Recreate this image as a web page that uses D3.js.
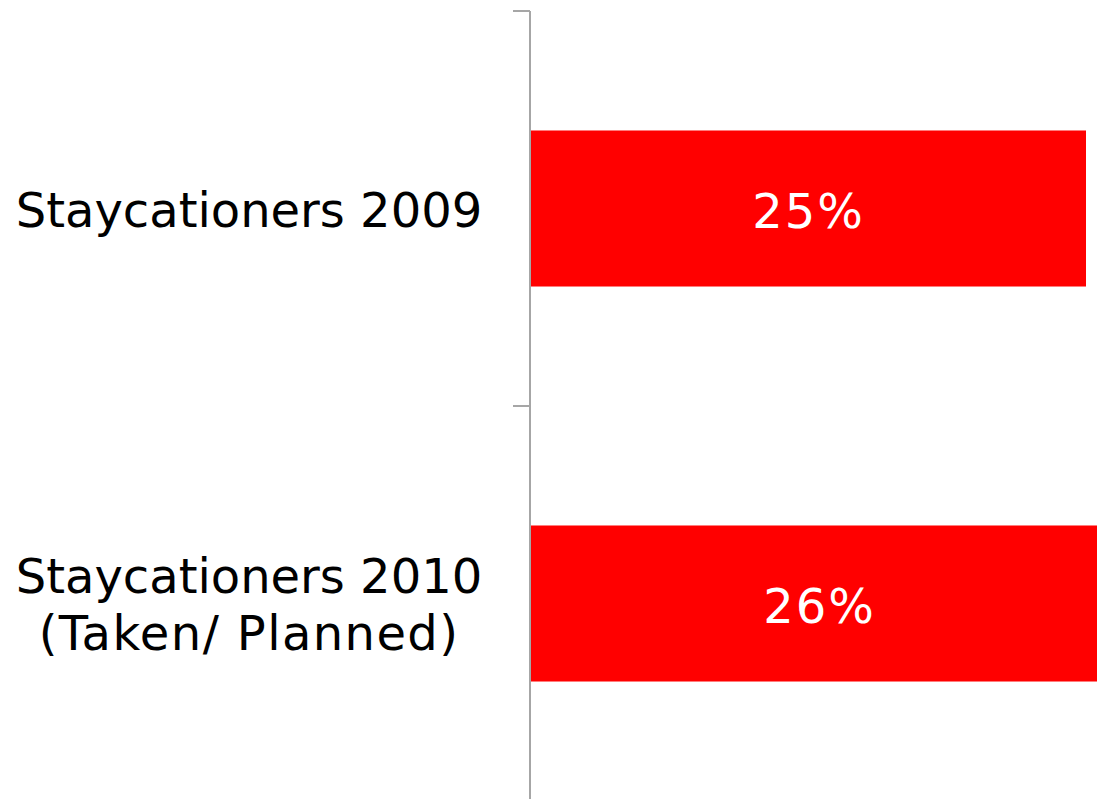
<!DOCTYPE html>
<html>
<head>
<meta charset="utf-8">
<script src="https://cdn.jsdelivr.net/npm/d3@7"></script>
<style>
  html, body { margin: 0; padding: 0; background: #fff; overflow: hidden; }
  svg { display: block; }
  text { font-family: "DejaVu Sans", Verdana, sans-serif; }
</style>
</head>
<body>
<svg id="chart" width="1097" height="799"></svg>
<script>
const categories = ["Staycationers 2009", "Staycationers 2010"];
const categoryLines = [["Staycationers 2009"], ["Staycationers 2010", "(Taken/ Planned)"]];
const values = [0.25, 0.26];
const valueLabels = ["25%", "26%"];

const svg = d3.select("#chart");
const axisX = 530;

const x = d3.scaleLinear().domain([0, 0.3]).range([axisX, axisX + 666]);
const slot = d3.scaleBand().domain(categories).range([11, 801]).padding(0);
const step = slot.step();
const barH = step * 0.395;
const barOff = (step - barH) / 2;

// bars
svg.selectAll("rect.bar").data(categories).enter().append("rect")
  .attr("class", "bar")
  .attr("x", x(0) + 1)
  .attr("y", c => slot(c) + barOff)
  .attr("width", (c, i) => x(values[i]) - x(0))
  .attr("height", barH)
  .attr("fill", "#ff0000");

// value labels
svg.selectAll("text.val").data(categories).enter().append("text")
  .attr("class", "val")
  .attr("x", (c, i) => (x(0) + x(values[i])) / 2 + 1)
  .attr("y", c => slot(c) + step / 2 + 2)
  .attr("text-anchor", "middle")
  .attr("dominant-baseline", "central")
  .attr("fill", "#fff")
  .attr("font-size", 48)
  .attr("letter-spacing", 2)
  .text((c, i) => valueLabels[i]);

// axis line & ticks
const axisColor = "#a6a6a6";
svg.append("line")
  .attr("x1", axisX).attr("x2", axisX)
  .attr("y1", slot.range()[0]).attr("y2", slot.range()[1])
  .attr("stroke", axisColor).attr("stroke-width", 2);
svg.selectAll("line.tick").data(categories).enter().append("line")
  .attr("class", "tick")
  .attr("x1", axisX - 17).attr("x2", axisX)
  .attr("y1", c => slot(c)).attr("y2", c => slot(c))
  .attr("stroke", axisColor).attr("stroke-width", 2);

// category labels
const lineH = 57;
categories.forEach((c, i) => {
  const lines = categoryLines[i];
  const cy = slot(c) + step / 2 + 1;
  const t = svg.append("text")
    .attr("x", 249)
    .attr("text-anchor", "middle")
    .attr("font-size", 48)
    .attr("fill", "#000");
  lines.forEach((ln, j) => {
    t.append("tspan")
      .attr("x", 249)
      .attr("y", cy + (j - (lines.length - 1) / 2) * lineH)
      .attr("dominant-baseline", "central")
      .attr("letter-spacing", j > 0 ? 1.4 : 0)
      .text(ln);
  });
});
</script>
</body>
</html>
